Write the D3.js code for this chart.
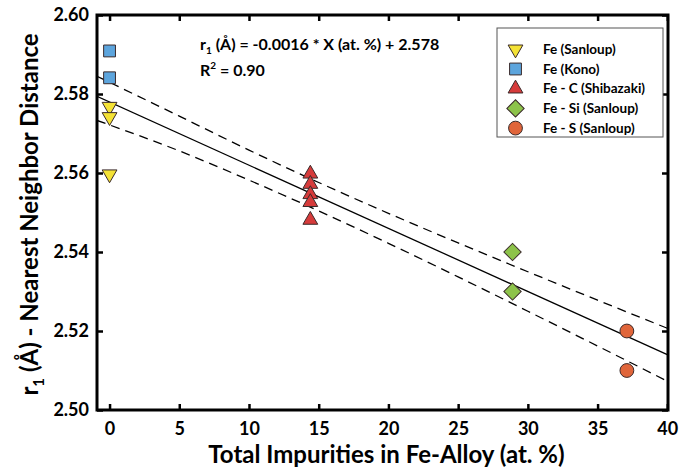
<!DOCTYPE html>
<html><head><meta charset="utf-8">
<script src="https://cdn.jsdelivr.net/npm/d3@7"></script>
<style>
body{margin:0;background:#fff;}
svg{display:block;}
text{font-family:Lato,"Open Sans",sans-serif;font-weight:bold;fill:#000;}
</style></head>
<body>
<svg id="chart" width="694" height="471"></svg>
<script>
// ---- data ----
const feSanloupX = [0, 0, 0];
const feSanloupY = [2.5768, 2.5742, 2.5597];
const feKonoX = [0, 0];
const feKonoY = [2.5909, 2.5841];
const feCX = [14.4, 14.4, 14.4, 14.4, 14.4];
const feCY = [2.5598, 2.5572, 2.5546, 2.5526, 2.5481];
const feSiX = [28.9, 28.9];
const feSiY = [2.5400, 2.5300];
const feSX = [37.1, 37.1];
const feSY = [2.5200, 2.5100];

const fitX = [-0.9, 40];
const fitY = [2.5794, 2.5140];
const bandX = [-0.9, 5, 10, 15, 20, 25, 30, 35, 40];
const bandUpper = [2.5845, 2.5744, 2.5658, 2.5576, 2.5498, 2.5423, 2.5350, 2.5278, 2.5207];
const bandLower = [2.5733, 2.5656, 2.5582, 2.5504, 2.5422, 2.5337, 2.5250, 2.5162, 2.5073];

const xTicks = [0, 5, 10, 15, 20, 25, 30, 35, 40];
const yTicks = [2.50, 2.52, 2.54, 2.56, 2.58, 2.60];
const seriesNames = ["Fe (Sanloup)", "Fe (Kono)", "Fe - C (Shibazaki)", "Fe - Si (Sanloup)", "Fe - S (Sanloup)"];
const seriesColors = ["#F4E235", "#5DA5DD", "#D63B3B", "#8DC34A", "#E0653A"];

// ---- layout ----
const svg = d3.select("#chart");
const L = 97, R = 668, T = 15, B = 410;
const x = d3.scaleLinear().domain([-0.9, 40.05]).range([L, R]);
const y = d3.scaleLinear().domain([2.50, 2.60]).range([B, T]);

const g = svg.append("g");
g.append("defs").append("clipPath").attr("id", "clip")
  .append("rect").attr("x", L).attr("y", T).attr("width", R - L).attr("height", B - T);

// lines
const line = d3.line().x(d => x(d[0])).y(d => y(d[1]));
const lineC = d3.line().x(d => x(d[0])).y(d => y(d[1])).curve(d3.curveMonotoneX);
const lines = g.append("g").attr("clip-path", "url(#clip)");
lines.append("path").datum(fitX.map((v, i) => [v, fitY[i]]))
  .attr("d", line).attr("fill", "none").attr("stroke", "#000").attr("stroke-width", 1.3);
[bandUpper, bandLower].forEach(arr => {
  lines.append("path").datum(bandX.map((v, i) => [v, arr[i]]))
    .attr("d", lineC).attr("fill", "none").attr("stroke", "#000")
    .attr("stroke-width", 1.3).attr("stroke-dasharray", "9,6");
});

// symbols
const symDefs = [
  {type: d3.symbolTriangle, size: 95, rot: 180},
  {type: d3.symbolSquare, size: 140, rot: 0},
  {type: d3.symbolTriangle, size: 95, rot: 0},
  {type: d3.symbolSquare, size: 150, rot: 45},
  {type: d3.symbolCircle, size: 150, rot: 0}
];
const seriesData = [
  [feSanloupX, feSanloupY], [feKonoX, feKonoY], [feCX, feCY], [feSiX, feSiY], [feSX, feSY]
];
function drawSym(sel, i) {
  sel.attr("d", d3.symbol().type(symDefs[i].type).size(symDefs[i].size)())
    .attr("fill", seriesColors[i]).attr("stroke", "#3a2a2a").attr("stroke-width", 1);
}
seriesData.forEach((s, i) => {
  const pts = s[0].map((v, j) => [v, s[1][j]]);
  g.selectAll(null).data(pts).enter().append("path")
    .attr("transform", d => `translate(${x(d[0])},${y(d[1])}) rotate(${symDefs[i].rot})`)
    .call(drawSym, i);
});

// axes (ticks inward on all sides)
const tl = 6;
g.append("g").attr("transform", `translate(0,${B})`)
  .call(d3.axisBottom(x).tickValues(xTicks).tickSizeInner(-tl).tickSizeOuter(0).tickPadding(12).tickFormat(d3.format("d")))
  .call(a => { a.select(".domain").remove(); a.selectAll("line").attr("stroke-width", 2.5);
    a.selectAll("text").attr("font-size", 18).attr("font-family", "Lato").attr("font-weight", "900"); });
g.append("g").attr("transform", `translate(0,${T})`)
  .call(d3.axisTop(x).tickValues(xTicks).tickSizeInner(-tl).tickSizeOuter(0).tickFormat(""))
  .call(a => { a.select(".domain").remove(); a.selectAll("line").attr("stroke-width", 2.5); });
g.append("g").attr("transform", `translate(${L},0)`)
  .call(d3.axisLeft(y).tickValues(yTicks).tickSizeInner(-tl).tickSizeOuter(0).tickPadding(8).tickFormat(d3.format(".2f")))
  .call(a => { a.select(".domain").remove(); a.selectAll("line").attr("stroke-width", 2.5);
    a.selectAll("text").attr("font-size", 18).attr("font-family", "Lato").attr("font-weight", "900"); });
g.append("g").attr("transform", `translate(${R},0)`)
  .call(d3.axisRight(y).tickValues(yTicks).tickSizeInner(-tl).tickSizeOuter(0).tickFormat(""))
  .call(a => { a.select(".domain").remove(); a.selectAll("line").attr("stroke-width", 2.5); });

g.append("rect").attr("x", L).attr("y", T).attr("width", R - L).attr("height", B - T)
  .attr("fill", "none").attr("stroke", "#000").attr("stroke-width", 3);

// axis titles
g.append("text").attr("x", (L + R) / 2 + 4).attr("y", 463).attr("text-anchor", "middle")
  .attr("font-size", 24).text("Total Impurities in Fe-Alloy (at. %)");
const yt = g.append("text").attr("transform", `translate(38,${(T + B) / 2 + 2}) rotate(-90)`)
  .attr("text-anchor", "middle").attr("font-size", 24);
yt.append("tspan").text("r");
yt.append("tspan").attr("font-size", 15).attr("dy", 6).text("1");
yt.append("tspan").attr("dy", -6).text(" (Å) - Nearest Neighbor Distance");

// equation
const eq = g.append("text").attr("x", 200).attr("y", 50).attr("font-size", 16);
eq.append("tspan").text("r");
eq.append("tspan").attr("font-size", 10).attr("dy", 4).text("1");
eq.append("tspan").attr("dy", -4).text(" (Å) = -0.0016 * X (at. %) + 2.578");
const r2 = g.append("text").attr("x", 200).attr("y", 76).attr("font-size", 16);
r2.append("tspan").text("R");
r2.append("tspan").attr("font-size", 10).attr("dy", -7).text("2");
r2.append("tspan").attr("dy", 7).text(" = 0.90");

// legend
const lg = g.append("g");
lg.append("rect").attr("x", 497).attr("y", 28).attr("width", 166).attr("height", 109)
  .attr("fill", "#fff").attr("stroke", "#555").attr("stroke-width", 1);
seriesNames.forEach((n, i) => {
  const yy = 49.3 + i * 19.7;
  lg.append("path").attr("transform", `translate(515.5,${yy}) rotate(${symDefs[i].rot})`).call(drawSym, i);
  lg.append("text").attr("x", 543).attr("y", yy + 4.5).attr("font-size", 13.5).text(n);
});
</script>
</body></html>
